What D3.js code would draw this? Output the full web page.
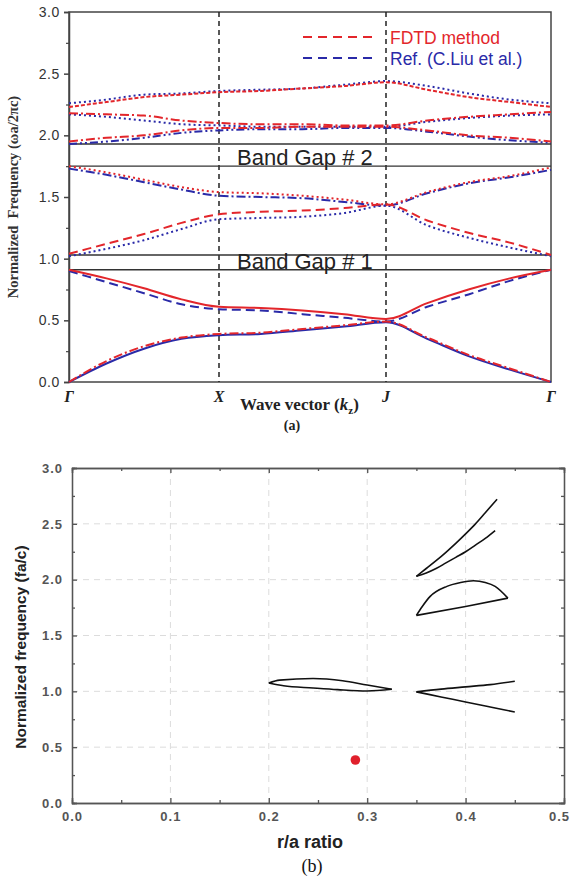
<!DOCTYPE html>
<html>
<head>
<meta charset="utf-8">
<script src="https://cdn.jsdelivr.net/npm/d3@7"></script>
<style>
  body { margin: 0; background: #fff; }
  .tickA text { font-family: "Liberation Sans", Arial, sans-serif; font-size: 14px; fill: #333; letter-spacing: 0.6px; }
  .tickB text { font-family: "Liberation Sans", Arial, sans-serif; font-size: 13px; font-weight: bold; fill: #555; letter-spacing: 1px; }
</style>
</head>
<body>
<div class="chart"></div>
<script>
var svgWidth = 573;
var svgHeight = 879;

// ---------- panel (a) data: band structure along Γ-X-J-Γ ----------
var kPoints = [0, 0.25, 0.5, 0.75, 1, 1.25, 1.5, 1.75, 2, 2.25, 2.5, 2.75, 3];
var kLabels = ["Γ", "X", "J", "Γ"];

var fdtdBand1 = [0, 0.17, 0.29, 0.36, 0.39, 0.40, 0.43, 0.46, 0.49, 0.36, 0.22, 0.11, 0];
var fdtdBand2 = [0.91, 0.84, 0.76, 0.67, 0.61, 0.60, 0.58, 0.55, 0.51, 0.64, 0.75, 0.84, 0.91];
var fdtdBand3 = [1.04, 1.12, 1.20, 1.29, 1.36, 1.38, 1.39, 1.41, 1.44, 1.31, 1.21, 1.13, 1.03];
var fdtdBand4 = [1.75, 1.70, 1.64, 1.58, 1.54, 1.53, 1.51, 1.48, 1.44, 1.54, 1.62, 1.67, 1.74];
var fdtdBand5 = [1.95, 1.98, 2.00, 2.04, 2.06, 2.06, 2.07, 2.07, 2.07, 2.04, 2.00, 1.98, 1.95];
var fdtdBand6 = [2.18, 2.17, 2.16, 2.12, 2.10, 2.09, 2.09, 2.08, 2.08, 2.12, 2.15, 2.17, 2.19];
var fdtdBand7 = [2.23, 2.27, 2.31, 2.33, 2.35, 2.36, 2.38, 2.40, 2.43, 2.37, 2.31, 2.27, 2.23];

var refBand1 = [0, 0.15, 0.27, 0.35, 0.38, 0.39, 0.42, 0.45, 0.485, 0.35, 0.21, 0.10, 0];
var refBand2 = [0.90, 0.81, 0.72, 0.63, 0.59, 0.58, 0.55, 0.52, 0.49, 0.61, 0.71, 0.82, 0.91];
var refBand3 = [1.02, 1.08, 1.15, 1.24, 1.32, 1.33, 1.34, 1.37, 1.43, 1.27, 1.17, 1.09, 1.02];
var refBand4 = [1.73, 1.68, 1.62, 1.56, 1.51, 1.50, 1.49, 1.46, 1.43, 1.53, 1.61, 1.66, 1.72];
var refBand5 = [1.93, 1.95, 1.98, 2.02, 2.04, 2.05, 2.05, 2.06, 2.06, 2.03, 1.99, 1.96, 1.94];
var refBand6 = [2.17, 2.15, 2.12, 2.09, 2.08, 2.07, 2.07, 2.07, 2.07, 2.11, 2.14, 2.16, 2.17];
var refBand7 = [2.26, 2.29, 2.33, 2.34, 2.36, 2.37, 2.38, 2.41, 2.44, 2.40, 2.34, 2.29, 2.26];

var bandGap1 = [0.91, 1.03];
var bandGap2 = [1.75, 1.93];
var legendNames = ["FDTD method", "Ref. (C.Liu et al.)"];

// ---------- panel (b) data: gap map ----------
var gap1Upper = [[0.2, 1.075], [0.211, 1.10], [0.245, 1.115], [0.275, 1.095], [0.30, 1.056], [0.325, 1.018]];
var gap1Lower = [[0.2, 1.075], [0.215, 1.05], [0.245, 1.03], [0.27, 1.015], [0.30, 1.003], [0.325, 1.018]];
var gap2Upper = [[0.35, 0.995], [0.375, 1.02], [0.40, 1.04], [0.425, 1.06], [0.45, 1.09]];
var gap2Lower = [[0.35, 0.995], [0.375, 0.95], [0.40, 0.905], [0.425, 0.86], [0.45, 0.815]];
var gap3Upper = [[0.35, 1.68], [0.356, 1.76], [0.364, 1.85], [0.381, 1.94], [0.395, 1.975], [0.408, 1.99], [0.42, 1.975], [0.43, 1.94], [0.443, 1.835]];
var gap3Lower = [[0.35, 1.68], [0.40, 1.76], [0.443, 1.835]];
var gap4Upper = [[0.35, 2.03], [0.36, 2.10], [0.37, 2.17], [0.38, 2.245], [0.39, 2.325], [0.40, 2.41], [0.41, 2.50], [0.42, 2.60], [0.432, 2.72]];
var gap4Lower = [[0.35, 2.03], [0.36, 2.06], [0.37, 2.10], [0.38, 2.15], [0.39, 2.20], [0.40, 2.25], [0.41, 2.31], [0.42, 2.37], [0.43, 2.44]];
var fdtdPoint = [[0.288, 0.385]];

var red = "#e3262b";
var blue = "#2a2aa8";

var svg = d3.select(".chart")
  .append("svg")
  .attr("width", svgWidth)
  .attr("height", svgHeight);

// ============ panel (a) ============
var marginA = { top: 12, left: 69 };
var widthA = 482, heightA = 370;
var gA = svg.append("g").attr("transform", `translate(${marginA.left}, ${marginA.top})`);

var xA = d3.scaleLinear().domain([0, 1, 2, 3]).range([0, 150, 317, 482]);
var yA = d3.scaleLinear().domain([0, 3]).range([heightA, 0]);

// y axis, major + minor ticks
gA.append("g").attr("class", "tickA")
  .call(d3.axisLeft(yA).tickValues(d3.range(0, 3.01, 0.5)).tickSize(5).tickPadding(4).tickFormat(d3.format(".1f")))
  .call(g => g.selectAll("line, path").attr("stroke", "#444").attr("stroke-width", 1.5));
gA.append("g")
  .call(d3.axisLeft(yA).tickValues(d3.range(0.25, 3, 0.5)).tickSize(3).tickFormat(""))
  .call(g => g.select(".domain").remove())
  .call(g => g.selectAll("line").attr("stroke", "#444").attr("stroke-width", 1.2));

// frame
gA.append("rect").attr("width", widthA).attr("height", heightA)
  .attr("fill", "none").attr("stroke", "#444").attr("stroke-width", 1.5);

// symmetry point dashed verticals
[1, 2].forEach(function(k) {
  gA.append("line").attr("x1", xA(k)).attr("x2", xA(k)).attr("y1", 0).attr("y2", heightA)
    .attr("stroke", "#222").attr("stroke-width", 1.5).attr("stroke-dasharray", "5,4");
});

// band gap edges
bandGap1.concat(bandGap2).forEach(function(v) {
  gA.append("line").attr("x1", 0).attr("x2", widthA).attr("y1", yA(v)).attr("y2", yA(v))
    .attr("stroke", "#333").attr("stroke-width", 1.4);
});
gA.append("text").attr("x", 168).attr("y", yA(bandGap2[0]) - 1)
  .attr("font-family", "Liberation Sans, Arial, sans-serif").attr("font-size", 22).attr("fill", "#222")
  .text("Band Gap # 2");
gA.append("text").attr("x", 168).attr("y", yA(bandGap1[0]) - 1)
  .attr("font-family", "Liberation Sans, Arial, sans-serif").attr("font-size", 22).attr("fill", "#222")
  .text("Band Gap # 1");

// bands
var dashes = {
  solid: null,
  dashed: "9,5",
  dotted: "2,3",
  dashdot: "9,3,2,3",
  dashdotdot: "8,3,2,3,2,3",
  short: "4,2"
};
var fdtdBands = [fdtdBand1, fdtdBand2, fdtdBand3, fdtdBand4, fdtdBand5, fdtdBand6, fdtdBand7];
var refBands = [refBand1, refBand2, refBand3, refBand4, refBand5, refBand6, refBand7];
var fdtdStyles = ["dashdot", "solid", "dashed", "dotted", "dashdot", "dashdot", "short"];
var refStyles = ["solid", "dashed", "dotted", "dashdot", "dashdotdot", "dotted", "dotted"];

var bandLine = d3.line()
  .x((d, i) => xA(kPoints[i]))
  .y(d => yA(d))
  .curve(d3.curveMonotoneX);

refBands.forEach(function(band, i) {
  gA.append("path").datum(band).attr("d", bandLine)
    .attr("fill", "none").attr("stroke", blue).attr("stroke-width", 2)
    .attr("stroke-dasharray", dashes[refStyles[i]]);
});
fdtdBands.forEach(function(band, i) {
  gA.append("path").datum(band).attr("d", bandLine)
    .attr("fill", "none").attr("stroke", red).attr("stroke-width", 2)
    .attr("stroke-dasharray", dashes[fdtdStyles[i]]);
});

// legend
[red, blue].forEach(function(c, i) {
  var ly = 25 + i * 21;
  gA.append("line").attr("x1", 234).attr("x2", 303).attr("y1", ly).attr("y2", ly)
    .attr("stroke", c).attr("stroke-width", 2).attr("stroke-dasharray", "9,6");
  gA.append("text").attr("x", 321).attr("y", ly + 7)
    .attr("font-family", "Liberation Sans, Arial, sans-serif").attr("font-size", 17.5).attr("fill", c)
    .text(legendNames[i]);
});

// k labels
kLabels.forEach(function(lab, i) {
  gA.append("text").attr("x", xA(i)).attr("y", heightA + 20)
    .attr("text-anchor", "middle")
    .attr("font-family", "Liberation Serif, Times New Roman, serif")
    .attr("font-style", "italic").attr("font-weight", "bold").attr("font-size", 16).attr("fill", "#222")
    .text(lab);
});

var wv = gA.append("text").attr("x", 171).attr("y", heightA + 28)
  .attr("font-family", "Liberation Serif, Times New Roman, serif")
  .attr("font-weight", "bold").attr("font-size", 17).attr("fill", "#222");
wv.append("tspan").text("Wave vector (");
wv.append("tspan").attr("font-style", "italic").text("k");
wv.append("tspan").attr("font-size", 11).attr("dy", 4).text("z");
wv.append("tspan").attr("dy", -4).text(")");

gA.append("text").attr("x", 223).attr("y", heightA + 48)
  .attr("text-anchor", "middle")
  .attr("font-family", "Liberation Serif, Times New Roman, serif")
  .attr("font-weight", "bold").attr("font-size", 14).attr("fill", "#222")
  .text("(a)");

gA.append("text")
  .attr("transform", `translate(${-51}, ${heightA / 2}) rotate(-90)`)
  .attr("text-anchor", "middle")
  .attr("font-family", "Liberation Serif, Times New Roman, serif")
  .attr("font-weight", "bold").attr("font-size", 14.5).attr("fill", "#333")
  .attr("xml:space", "preserve")
  .text("Normalized  Frequency (ωa/2πc)");

// ============ panel (b) ============
var marginB = { top: 468, left: 72 };
var widthB = 492, heightB = 335;
var gB = svg.append("g").attr("transform", `translate(${marginB.left}, ${marginB.top})`);

var xB = d3.scaleLinear().domain([0, 0.5]).range([0, widthB]);
var yB = d3.scaleLinear().domain([0, 3]).range([heightB, 0]);

// grid
d3.range(0.5, 2.51, 0.5).forEach(function(v) {
  gB.append("line").attr("x1", 0).attr("x2", widthB).attr("y1", yB(v)).attr("y2", yB(v))
    .attr("stroke", "#dcdcdc").attr("stroke-dasharray", "6,5");
});
d3.range(0.1, 0.41, 0.1).forEach(function(v) {
  gB.append("line").attr("x1", xB(v)).attr("x2", xB(v)).attr("y1", 0).attr("y2", heightB)
    .attr("stroke", "#dcdcdc").attr("stroke-dasharray", "6,5");
});

var axisStyle = g => g.selectAll("line, path").attr("stroke", "#555").attr("stroke-width", 1.3);
var xMajor = d3.range(0, 0.51, 0.1), xMinor = d3.range(0.05, 0.5, 0.1);
var yMajor = d3.range(0, 3.01, 0.5), yMinor = d3.range(0.25, 3, 0.5);

gB.append("g").attr("class", "tickB").attr("transform", `translate(0, ${heightB})`)
  .call(d3.axisBottom(xB).tickValues(xMajor).tickSize(-5).tickPadding(9).tickFormat(d3.format(".1f")))
  .call(axisStyle)
  .call(g => g.selectAll(".tick:last-of-type text").attr("dx", -5));
gB.append("g").attr("transform", `translate(0, ${heightB})`)
  .call(d3.axisBottom(xB).tickValues(xMinor).tickSize(-3).tickFormat(""))
  .call(axisStyle);
gB.append("g")
  .call(d3.axisTop(xB).tickValues(xMajor).tickSize(-5).tickFormat(""))
  .call(axisStyle);
gB.append("g")
  .call(d3.axisTop(xB).tickValues(xMinor).tickSize(-3).tickFormat(""))
  .call(axisStyle);
gB.append("g").attr("class", "tickB")
  .call(d3.axisLeft(yB).tickValues(yMajor).tickSize(-5).tickPadding(9).tickFormat(d3.format(".1f")))
  .call(axisStyle);
gB.append("g")
  .call(d3.axisLeft(yB).tickValues(yMinor).tickSize(-3).tickFormat(""))
  .call(axisStyle);
gB.append("g").attr("transform", `translate(${widthB}, 0)`)
  .call(d3.axisRight(yB).tickValues(yMajor).tickSize(-5).tickFormat(""))
  .call(axisStyle);
gB.append("g").attr("transform", `translate(${widthB}, 0)`)
  .call(d3.axisRight(yB).tickValues(yMinor).tickSize(-3).tickFormat(""))
  .call(axisStyle);

// gap map curves
var gapLine = d3.line()
  .x(d => xB(d[0]))
  .y(d => yB(d[1]))
  .curve(d3.curveMonotoneX);

[gap1Upper, gap1Lower, gap2Upper, gap2Lower, gap3Upper, gap3Lower, gap4Upper, gap4Lower].forEach(function(c) {
  gB.append("path").datum(c).attr("d", gapLine)
    .attr("fill", "none").attr("stroke", "#111").attr("stroke-width", 1.6);
});

gB.selectAll(".pt").data(fdtdPoint).enter().append("circle")
  .attr("cx", d => xB(d[0])).attr("cy", d => yB(d[1]))
  .attr("r", 4.8).attr("fill", "#e0202c");

gB.append("text").attr("x", 238).attr("y", heightB + 45)
  .attr("text-anchor", "middle")
  .attr("font-family", "Liberation Sans, Arial, sans-serif")
  .attr("font-weight", "bold").attr("font-size", 18).attr("fill", "#222")
  .text("r/a ratio");

gB.append("text").attr("x", 240).attr("y", heightB + 69)
  .attr("text-anchor", "middle")
  .attr("font-family", "Liberation Serif, Times New Roman, serif")
  .attr("font-size", 18).attr("fill", "#111")
  .text("(b)");

gB.append("text")
  .attr("transform", `translate(${-46}, ${179}) rotate(-90)`)
  .attr("text-anchor", "middle")
  .attr("font-family", "Liberation Sans, Arial, sans-serif")
  .attr("font-weight", "bold").attr("font-size", 15.5).attr("fill", "#222")
  .text("Normalized frequency (fa/c)");
</script>
</body>
</html>
